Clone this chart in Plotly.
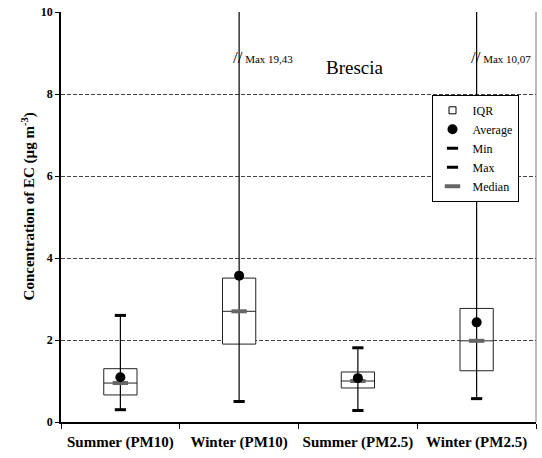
import plotly.graph_objects as go

# EC concentrations at Brescia (µg m-3), per season and size fraction
categories = ["Summer (PM10)", "Winter (PM10)", "Summer (PM2.5)", "Winter (PM2.5)"]
ec_min = [0.30, 0.50, 0.28, 0.57]
ec_q1 = [0.66, 1.90, 0.83, 1.25]
ec_median = [0.95, 2.70, 1.00, 1.98]
ec_q3 = [1.30, 3.51, 1.22, 2.77]
ec_max = [2.60, 19.43, 1.81, 10.07]
ec_mean = [1.09, 3.57, 1.07, 2.43]

Y_MAX = 10
SERIF = "'Liberation Serif', 'DejaVu Serif', serif"

fig = go.Figure()

# interquartile boxes
fig.add_trace(go.Box(
    x=categories, q1=ec_q1, median=ec_median, q3=ec_q3,
    lowerfence=ec_q1, upperfence=ec_q3,
    fillcolor="white", line=dict(color="#222222", width=1),
    whiskerwidth=0, showlegend=False, hoverinfo="skip",
))

# legend entry for the boxes
fig.add_trace(go.Scatter(
    x=[None], y=[None], mode="markers", name="IQR", legendrank=1,
    marker=dict(symbol="square-open", size=7, color="black", line=dict(width=1)),
))

# min-max line through each box
wx, wy = [], []
for c, lo, hi in zip(categories, ec_min, ec_max):
    wx += [c, c, None]
    wy += [lo, hi, None]
fig.add_trace(go.Scatter(
    x=wx, y=wy, mode="lines", line=dict(color="black", width=1.2),
    showlegend=False, hoverinfo="skip",
))

fig.add_trace(go.Scatter(
    x=categories, y=ec_median, mode="markers", name="Median", legendrank=5,
    marker=dict(symbol="line-ew", size=11, color="#666666",
                line=dict(color="#666666", width=4)),
))
fig.add_trace(go.Scatter(
    x=categories, y=ec_min, mode="markers", name="Min", legendrank=3,
    marker=dict(symbol="line-ew", size=8, color="black",
                line=dict(color="black", width=3)),
))
fig.add_trace(go.Scatter(
    x=categories, y=ec_max, mode="markers", name="Max", legendrank=4,
    marker=dict(symbol="line-ew", size=8, color="black",
                line=dict(color="black", width=3)),
))
fig.add_trace(go.Scatter(
    x=categories, y=ec_mean, mode="markers", name="Average", legendrank=2,
    marker=dict(symbol="circle", size=10, color="black"),
))

# notes for whiskers running past the top of the axis
for c, hi in zip(categories, ec_max):
    if hi > Y_MAX:
        label = f"Max {hi:.2f}".replace(".", ",")
        fig.add_annotation(
            x=c, y=8.9, xref="x", yref="y", xanchor="left", yanchor="middle",
            xshift=-8, showarrow=False,
            text=f"<span style='font-size:17px'>//</span> {label}",
            font=dict(family=SERIF, size=11, color="black"),
        )

fig.add_annotation(
    x=0.619, y=0.895, xref="paper", yref="paper", showarrow=False,
    text="Brescia", font=dict(family=SERIF, size=19, color="black"),
)

# y-axis title
fig.add_annotation(
    x=-0.068, y=0.525, xref="paper", yref="paper", showarrow=False,
    textangle=-90, xanchor="center", yanchor="middle",
    text="Concentration of EC (µg m<sup>-3</sup>)",
    font=dict(family=SERIF, size=15, color="black", weight="bold"),
)

# right-hand frame edge
fig.add_shape(type="line", xref="paper", yref="paper", x0=1, x1=1, y0=0, y1=1,
              line=dict(color="#777777", width=1))

fig.update_layout(
    width=542, height=458,
    margin=dict(l=61, r=6, t=12, b=36),
    paper_bgcolor="white", plot_bgcolor="white",
    boxgap=0.6,
    font=dict(family=SERIF, color="black"),
    legend=dict(
        x=0.78, y=0.798, xanchor="left", yanchor="top",
        bgcolor="white", bordercolor="black", borderwidth=1,
        font=dict(family=SERIF, size=12, color="black"),
        itemwidth=30, tracegroupgap=0,
    ),
    xaxis=dict(
        type="category", categoryorder="array", categoryarray=categories,
        tickson="boundaries", ticks="outside", ticklen=5, tickcolor="black",
        showline=True, linecolor="black", linewidth=1.5,
        showgrid=False, zeroline=False, ticklabelstandoff=5, tickangle=0,
        automargin=False,
        tickfont=dict(family=SERIF, size=15, color="black", weight="bold"),
    ),
    yaxis=dict(
        range=[0, Y_MAX], dtick=2, ticks="outside", ticklen=4, tickcolor="black",
        showline=True, linecolor="black", linewidth=1.5,
        showgrid=True, gridcolor="#444444", gridwidth=1, griddash="4px,2px",
        zeroline=False, automargin=False,
        tickfont=dict(family=SERIF, size=12, color="black", weight="bold"),
    ),
)

fig.write_html("out.html")
